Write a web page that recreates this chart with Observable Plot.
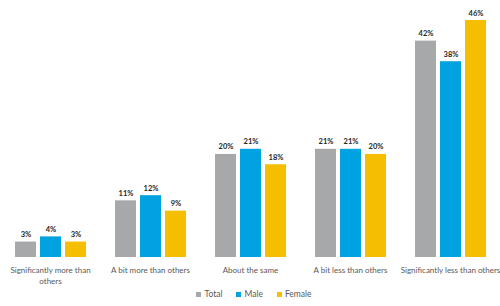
<!DOCTYPE html>
<html><head><meta charset="utf-8">
<script src="https://cdn.jsdelivr.net/npm/d3@7"></script>
<script src="https://cdn.jsdelivr.net/npm/@observablehq/plot@0.6"></script>
<style>
body{margin:0;background:#fff;font-family:Lato,sans-serif;}
#legend{display:flex;justify-content:center;gap:14px;font-size:8.5px;color:#595959;margin-top:1px;padding-left:8px}
#legend span{display:flex;align-items:center;gap:3px}
#legend i{display:inline-block;width:5px;height:5px}
</style></head><body>
<div id="chart"></div>
<div id="legend"></div>
<script>
const categories = ["Significantly more than others","A bit more than others","About the same","A bit less than others","Significantly less than others"];
const categoryLabels = ["Significantly more than\nothers","A bit more than others","About the same","A bit less than others","Significantly less than others"];
const series = ["Total","Male","Female"];
const colors = ["#a7a8aa","#00a3e0","#f5be00"];
const total = [3,11,20,21,42];
const male = [4,12,21,21,38];
const female = [3,9,18,20,46];

const vals = [total, male, female];
const data = [];
categories.forEach((c,i)=>series.forEach((s,j)=>data.push({cat:c, s, v: vals[j][i]})));

const chart = Plot.plot({
  width: 500, height: 288,
  marginLeft: 0, marginRight: 0, marginTop: 20, marginBottom: 31,
  style: {fontFamily: "Lato, sans-serif", background: "#fff"},
  fx: {domain: categories, padding: 0, label: null},
  x: {domain: series, axis: null, paddingInner: 0.16, paddingOuter: 0.58},
  y: {domain: [0, 46], axis: null},
  color: {domain: series, range: colors},
  marks: [
    Plot.barY(data, {fx: "cat", x: "s", y: "v", fill: "s"}),
    Plot.text(data, {fx: "cat", x: "s", y: "v", text: d => d.v + "%", lineAnchor: "bottom", dy: -5, fontSize: 7.5, fontWeight: "bold", fill: "#262626"}),
    Plot.axisFx({anchor: "bottom", tickSize: 0, tickPadding: 7, fontSize: 8, lineHeight: 1.45, color: "#595959", tickFormat: d => categoryLabels[categories.indexOf(d)], label: null})
  ]
});
document.getElementById("chart").append(chart);
const lg = document.getElementById("legend");
series.forEach((s,i)=>{
  const sp = document.createElement("span");
  sp.innerHTML = `<i style="background:${colors[i]}"></i>${s}`;
  lg.append(sp);
});
</script></body></html>
